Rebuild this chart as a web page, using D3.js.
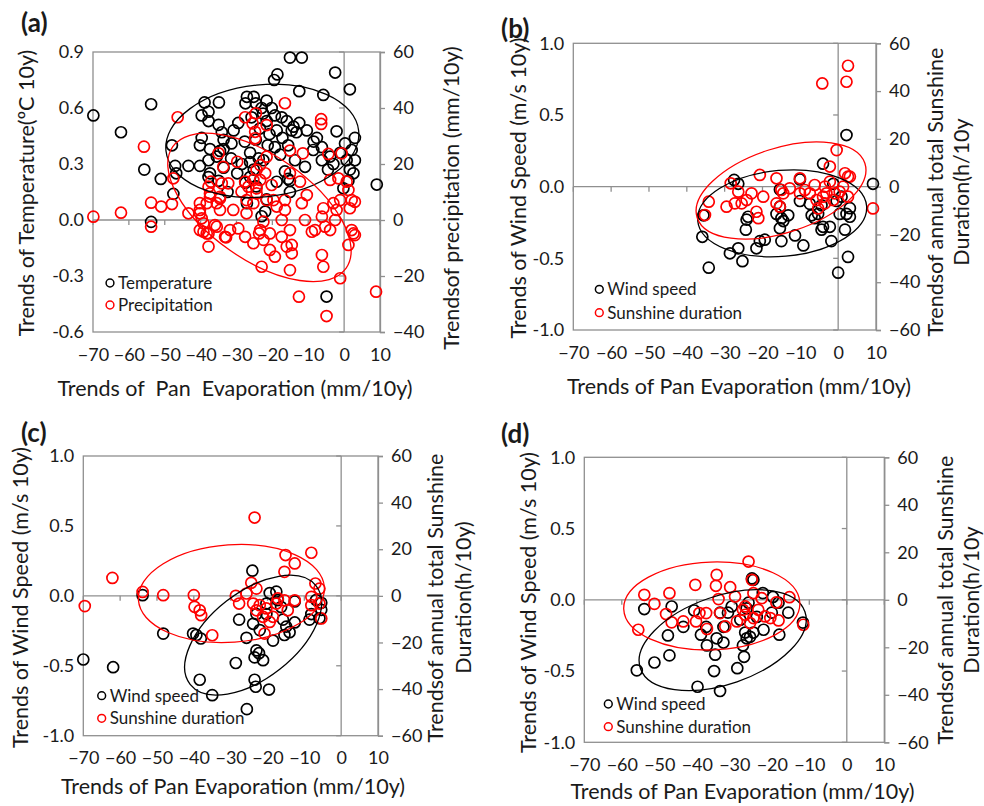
<!DOCTYPE html>
<html><head><meta charset="utf-8">
<script src="https://cdn.jsdelivr.net/npm/d3@7"></script>
<style>
body{margin:0;background:#fff}
text{font-family:Lato,'Noto Sans',sans-serif;fill:#1a1a1a}
</style>
</head><body>
<svg id="chart" width="984" height="806"></svg>
<script>
// ---------- axis ticks ----------
const xTicks = [-70,-60,-50,-40,-30,-20,-10,0,10];
const xTickLabels = ["\u221270","\u221260","\u221250","\u221240","\u221230","\u221220","\u221210","0","10"];
const tempTicks = [0.9,0.6,0.3,0,-0.3,-0.6];
const tempTickLabels = ["0.9","0.6","0.3","0.0","-0.3","-0.6"];
const precTicks = [60,40,20,0,-20,-40];
const windTicks = [1,0.5,0,-0.5,-1];
const windTickLabels = ["1.0","0.5","0.0","-0.5","-1.0"];
const sunTicks = [60,40,20,0,-20,-40,-60];

// ---------- panel (a) ----------
const aTemperature = [
[-69.9,0.56],[-53.8,0.62],[-62.2,0.47],[-55.7,0.27],[-51.1,0.22],[-53.8,-0.01],[-48.0,0.40],[-47.1,0.29],[-46.8,0.25],[-47.6,0.14],
[-43.4,0.29],[-40.2,0.29],[-38.9,0.63],[-34.9,0.63],[-39.7,0.56],[-37.8,0.58],[-37.8,0.53],[-35.0,0.51],[-40.2,0.40],[-39.7,0.44],
[-37.4,0.38],[-37.8,0.32],[-35.5,0.34],[-34.1,0.47],[-33.6,0.43],[-37.8,0.23],[-35.0,0.21],[-33.6,0.38],[-33.6,0.28],
[-15.1,0.87],[-18.6,0.78],[-19.5,0.75],[-30.8,0.48],[-27.1,0.66],[-25.2,0.66],[-27.5,0.625],[-24.6,0.625],[-21.6,0.64],[-23.0,0.60],
[-20.2,0.60],[-19.3,0.56],[-17.4,0.55],[-16.0,0.53],[-21.6,0.53],[-18.8,0.48],[-23.5,0.49],[-14.6,0.48],[-31.4,0.41],[-27.7,0.42],
[-24.6,0.43],[-21.3,0.40],[-19.3,0.39],[-15.6,0.40],[-34.6,0.37],[-26.2,0.36],[-17.8,0.35],[-26.2,0.31],[-22.5,0.32],[-16.5,0.26],
[-15.6,0.22],[-25.2,0.27],[-26.2,0.23],[-27.5,0.20],[-27.1,0.09],[-22.0,0.045],[-18.8,0.205],[-37.4,0.25],
[-29.5,0.52],[-28.5,0.30],[-29.8,0.25],[-24.5,0.18],[-23.8,0.33],[-20.8,0.46],[-22.6,0.57],[-25.8,0.55],[-17.2,0.44],[-13.3,0.47],
[-12.5,0.52],[-31.5,0.33],[-32.5,0.15],[-21.6,0.11],[-23.0,0.02],[-15.1,0.15],
[-11.8,0.87],[-2.5,0.79],[1.6,0.70],[-5.8,0.67],[-12.5,0.69],[-2.1,0.475],[3.0,0.44],[0.25,0.41],[-7.6,0.44],[-6.2,0.39],
[-8.6,0.375],[-10.4,0.48],[-14.1,0.50],[2.1,0.375],[3.0,0.32],[1.6,0.27],[1.2,0.21],[-3.0,0.30],[-6.2,0.32],[-10.9,0.285],
[-13.7,0.32],[9.1,0.19],[-0.2,0.17],[-4.9,-0.41],[-15.1,0.21],[-1.1,0.36],[-3.9,0.34],[0.7,0.32],[-8.5,0.42],[-4.5,0.27],[2.6,0.25]
];
const aPrecipitation = [
[-69.9,1.2],[-62.2,2.6],[-53.8,-2.4],[-53.8,6.2],[-51.0,4.8],[-48.0,5.7],[-55.8,26.2],[-46.4,36.7],[-47.6,14.9],[-43.4,2.4],
[-40.2,3.6],[-39.7,0.6],[-39.2,-1.2],[-37.8,-4.8],[-39.2,-4.2],[-37.8,-9.5],[-36.0,-1.8],[-33.2,-6.0],[-37.8,11.9],[-37.4,9.5],
[-34.1,13.1],[-34.6,7.7],[-37.1,13.7],[-40.2,6.0],[-35.0,23.8],[-33.7,19.0],
[-29.8,20.8],[-27.6,36.7],[-24.6,38.1],[-21.6,33.9],[-25.5,34.5],[-24.8,29.2],[-24.8,31.5],[-16.5,41.7],[-6.4,36.0],[-6.4,34.3],
[-15.1,24.8],[-11.5,23.8],[-4.4,23.6],[-0.7,23.8],[-3.9,14.3],[-1.6,14.9],[0.7,13.7],[1.2,10.7],[2.1,7.1],[3.0,6.5],
[1.6,4.2],[-3.0,6.0],[-1.1,7.1],[-2.1,3.6],[-5.8,4.2],[-6.2,1.2],[-2.5,0],[-5.3,-2.4],[-8.1,-3.6],[-3.9,-3.6],
[2.1,-3.6],[3.0,-5.4],[1.2,-8.9],[-6.2,-12.5],[-5.8,-16.7],[-1.1,-20.8],[8.9,-25.6],[-12.6,-27.4],[-4.9,-34.3],[-15.1,-17.9],
[-23.0,-16.7],[-16.0,-9.5],[-14.6,-11.9],[-15.1,-3.6],[-17.4,-6.0],[-19.3,-13.1],[-20.7,-10.7],[-22.5,-7.1],[-23.4,-3.6],[-20.7,-4.8],
[-25.3,-8.3],[-27.6,-6.0],[-29.5,-3.0],[-31.8,-3.6],[-32.9,-6.2],[-35.5,-2.4],[-38.3,-4.8],[-30.9,3.6],[-27.2,2.4],[-25.3,6.0],
[-24.4,9.5],[-26.7,11.9],[-25.3,14.3],[-24.4,17.9],[-23.4,19.6],[-21.6,22.6],[-20.2,12.5],[-19.7,7.1],[-21.6,7.1],[-18.8,4.8],
[-16.5,7.1],[-16.5,3.6],[-15.1,16.7],[-12.3,13.7],[-10.4,8.9],[-11.8,6.0],[-10.9,0],[-9.0,-4.2],[-14.6,-8.9],[-17.4,0],
[-22.5,-0.6],[-23.7,-4.8],[-27.2,7.1],[-28.6,10.1],[-27.6,13.7],[-32.3,13.1],[-34.6,8.3],[-34.6,3.6],[-37.4,8.3],[-38.3,6.0],
[-35.5,6.0],[-40.2,2.4],[-40.2,-3.6],[-22.0,16.7],[-23.4,14.3],[-24.4,11.3],[2.6,-4.8]
];
const aTempEllipse = {cx:-22.8, cy:0.424, rx:27.0, ry:0.30, angle:-6};
const aPrecEllipse = {cx:-23.6, cy:4.5, rx:29.5, ry:18.6, angle:35};

// ---------- panel (b) ----------
const bWind = [
[-34.2,-0.565],[-35.9,-0.35],[-35.6,-0.20],[-28.6,-0.465],[-26.4,-0.43],[-25.3,-0.52],[-27.5,0.047],[-26.4,0.02],[-24.4,-0.30],[-24.2,-0.23],
[-23.8,-0.21],[-21.6,-0.43],[-20.7,-0.38],[-19.4,-0.37],[-16.3,-0.19],[-15.4,-0.14],[-15.0,-0.22],[-15.4,-0.29],[-14.5,-0.24],[-13.2,-0.20],
[-15.0,-0.38],[-15.4,-0.02],[-11.4,-0.34],[-9.2,-0.41],[-10.1,-0.10],[-10.1,0.05],[-7.0,-0.20],[-6.2,-0.22],[-5.3,-0.19],[-4.4,-0.30],
[-4.0,-0.28],[-2.2,-0.28],[-1.8,-0.38],[-4.0,0.16],[-1.3,0.02],[-0.4,-0.10],[0,-0.60],[0.4,-0.19],[1.8,-0.30],[2.2,0.36],
[2.2,-0.19],[2.6,-0.49],[3.1,-0.15],[3.1,-0.21],[0.9,-0.07],[9.2,0.02],[-4.4,-0.13],[-7.5,-0.12]
];
const bSunshine = [
[-34.2,-6.3],[-35.2,-11.9],[-29.5,-8.4],[-28.4,1.4],[-27.3,-7.0],[-26.4,-2.1],[-25.5,-7.0],[-24.2,-5.6],[-22.9,-2.8],[-20.7,4.9],
[-19.8,-4.2],[-21.6,-10.5],[-21.1,-13.2],[-16.3,3.5],[-16.3,-7.0],[-15.4,-8.4],[-15.0,-1.4],[-14.5,-2.8],[-12.8,-0.7],[-10.1,3.5],
[-10.1,-2.8],[-8.8,-1.4],[-7.5,-2.8],[-6.2,0.7],[-5.7,-5.6],[-5.3,-9.1],[-4.2,43.2],[-3.5,0],[-3.1,-2.8],[-3.5,-7.0],
[-2.2,8.4],[-0.4,15.3],[-2.2,2.1],[-0.9,-2.8],[0.4,-2.1],[1.3,0],[1.8,5.6],[2.2,43.9],[2.6,50.6],[2.6,4.2],
[3.1,4.2],[2.6,-4.2],[9.2,-9.1],[-1.3,-5.6],[-4.0,-4.2]
];
const bWindEllipse = {cx:-14.8, cy:-0.186, rx:22.4, ry:0.30, angle:-5};
const bSunEllipse = {cx:-15.1, cy:-1.6, rx:23.3, ry:17.7, angle:-18};

// ---------- panel (c) ----------
const cWind = [
[-70.0,-0.455],[-61.9,-0.51],[-53.9,0.005],[-48.3,-0.27],[-40.2,-0.27],[-39.3,-0.28],[-38.1,-0.305],[-38.4,-0.60],[-35.0,-0.71],[-28.6,-0.48],
[-27.7,-0.17],[-25.7,-0.30],[-25.6,-0.81],[-24.1,0.18],[-23.9,-0.20],[-23.5,-0.60],[-23.2,-0.65],[-23.0,-0.39],[-23.5,-0.44],[-21.2,-0.46],
[-22.3,-0.41],[-19.6,-0.67],[-22.1,-0.245],[-20.3,-0.13],[-18.5,-0.32],[-19.4,0.02],[-17.6,0.03],[-17.2,-0.03],[-16.3,-0.08],[-14.9,-0.22],
[-15.4,-0.28],[-14.0,-0.26],[-12.6,-0.04],[-12.6,-0.19],[-15.8,-0.17],[-8.6,-0.17],[-8.1,-0.13],[-6.8,-0.03],[-5.9,-0.16],[-5.4,-0.05],
[-5.4,-0.10],[-23.0,-0.13],[-20.3,-0.055]
];
const cSunshine = [
[-69.6,-4.4],[-62.1,7.7],[-53.9,1.7],[-48.3,0.3],[-40.0,0.3],[-39.8,-4.7],[-38.4,-6.2],[-38.0,-8.3],[-35.0,-16.9],[-28.6,0],
[-27.7,-3.3],[-25.7,1.0],[-24.4,5.6],[-23.0,3.1],[-23.5,33.6],[-23.9,-3.3],[-23.0,-6.2],[-22.1,-4.0],[-21.2,-9.0],[-20.3,-5.4],
[-20.8,-16.2],[-19.4,-11.2],[-18.5,-9.0],[-17.6,-3.3],[-17.2,-1.1],[-15.4,-1.9],[-15.4,10.3],[-15.1,17.5],[-14.5,-6.2],[-12.6,13.9],
[-12.6,-1.9],[-8.1,18.5],[-8.1,-0.4],[-8.1,-4.0],[-7.0,5.3],[-5.9,3.1],[-5.9,-3.3],[-5.4,-9.7]
];
const cWindEllipse = {cx:-23.9, cy:-0.281, rx:21.7, ry:0.309, angle:-38};
const cSunEllipse = {cx:-29.8, cy:1.0, rx:25.3, ry:20.9, angle:-4};

// ---------- panel (d) ----------
const dWind = [
[-56.0,-0.495],[-51.3,-0.44],[-54.0,-0.065],[-47.7,-0.25],[-47.3,-0.39],[-46.7,-0.047],[-43.6,-0.19],[-40.7,-0.075],[-39.8,-0.61],[-38.9,-0.245],
[-37.5,-0.19],[-37.3,-0.32],[-35.1,-0.385],[-35.4,-0.50],[-34.7,-0.27],[-33.8,-0.64],[-32.9,-0.30],[-32.9,-0.19],[-31.7,-0.09],[-30.7,-0.047],
[-29.2,-0.48],[-27.7,-0.32],[-27.4,-0.40],[-27.1,-0.23],[-26.7,-0.27],[-25.8,-0.26],[-24.9,-0.23],[-25.3,0.15],[-24.9,0.14],[-26.2,-0.02],
[-24.0,-0.12],[-22.2,-0.21],[-22.4,0.047],[-19.7,0.02],[-20.0,-0.09],[-18.2,-0.02],[-18.0,-0.245],[-15.6,-0.09],[-11.7,-0.16],[-28.4,-0.14],
[-33.8,-0.09],[-26.7,-0.06]
];
const dSunshine = [
[-55.6,-12.6],[-54.0,2.1],[-51.3,-1.7],[-47.3,2.8],[-48.2,-6.0],[-46.7,-9.5],[-43.6,-9.1],[-40.4,6.3],[-40.2,-9.1],[-39.3,-5.6],
[-37.5,-5.6],[-37.3,-12.3],[-34.7,10.5],[-34.9,5.9],[-34.2,0.3],[-33.8,-5.6],[-32.4,-11.2],[-31.1,5.3],[-29.8,1.4],[-29.3,-9.1],
[-27.7,-4.2],[-27.1,-6.3],[-26.2,16.1],[-25.8,-9.8],[-25.3,8.4],[-24.9,2.8],[-24.9,-7.7],[-23.6,-4.2],[-22.7,0.7],[-21.8,-7.0],
[-20.4,-7.7],[-18.8,-1.1],[-18.2,-8.7],[-15.3,1.1],[-11.6,-10.5],[-27.1,-2.8]
];
const dWindEllipse = {cx:-33.1, cy:-0.283, rx:23.2, ry:0.309, angle:-19};
const dSunEllipse = {cx:-36.0, cy:-2.6, rx:23.5, ry:18.5, angle:-2};

// ---------- layout (not data) ----------
const svg = d3.select("#chart");
const GRAY = "#8f8f8f";
const RED = "#ff0000";
const TICK_FS = 18, TITLE_FS = 21.5, LEG_FS = 17;

const panels = [
 {tag:"(a)", tagPos:[21,32], box:[93,52,380,332],
  left:{dom:[-0.6,0.9], ticks:tempTicks, labels:tempTickLabels},
  right:{dom:[-40,60], ticks:precTicks},
  black:aTemperature, red:aPrecipitation, blackEll:aTempEllipse, redEll:aPrecEllipse,
  leftTitle:"Trends of Temperature(ºC 10y)", leftTitlePos:[29,193],
  rightTitle:["Trendsof precipitation (mm/10y)"], rightTitlePos:[[454,198]],
  xTitle:"Trends of  Pan  Evaporation (mm/10y)", xTitlePos:[235,396],
  legend:["Temperature","Precipitation"], legendPos:[110,283,305]},
 {tag:"(b)", tagPos:[501,38], box:[573.3,43.3,876,330],
  left:{dom:[-1,1], ticks:windTicks, labels:windTickLabels},
  right:{dom:[-60,60], ticks:sunTicks},
  black:bWind, red:bSunshine, blackEll:bWindEllipse, redEll:bSunEllipse,
  leftTitle:"Trends of Wind Speed (m/s 10y)", leftTitlePos:[521,188],
  rightTitle:["Trendsof annual total Sunshine","Duration(h/10y"], rightTitlePos:[[938,192],[964,192]],
  xTitle:"Trends of Pan Evaporation (mm/10y)", xTitlePos:[739,394],
  legend:["Wind speed","Sunshine duration"], legendPos:[599.3,289.3,312.7]},
 {tag:"(c)", tagPos:[21,442], box:[83.3,456,378,735.7],
  left:{dom:[-1,1], ticks:windTicks, labels:windTickLabels},
  right:{dom:[-60,60], ticks:sunTicks},
  black:cWind, red:cSunshine, blackEll:cWindEllipse, redEll:cSunEllipse,
  leftTitle:"Trends of Wind Speed (m/s 10y)", leftTitlePos:[23,597.5],
  rightTitle:["Trendsof annual total Sunshine","Duration(h/10y)"], rightTitlePos:[[438,598],[466,597.5]],
  xTitle:"Trends of Pan Evaporation (mm/10y)", xTitlePos:[233,794],
  legend:["Wind speed","Sunshine duration"], legendPos:[101.7,695.7,718.3]},
 {tag:"(d)", tagPos:[501,443], box:[584.3,457.3,884.3,742.3],
  left:{dom:[-1,1], ticks:windTicks, labels:windTickLabels},
  right:{dom:[-60,60], ticks:sunTicks},
  black:dWind, red:dSunshine, blackEll:dWindEllipse, redEll:dSunEllipse,
  leftTitle:"Trends of Wind Speed (m/s 10y)", leftTitlePos:[531,602.5],
  rightTitle:["Trendsof annual total Sunshine","Duration(h/10y"], rightTitlePos:[[948,600],[974,600]],
  xTitle:"Trends of Pan Evaporation (mm/10y)", xTitlePos:[742.5,799],
  legend:["Wind speed","Sunshine duration"], legendPos:[608.3,704,726.7]}
];

function drawEllipse(g, e, x, y, color){
  const kx = x(1) - x(0), ky = y(0) - y(1);
  const cx = x(e.cx), cy = y(e.cy);
  g.append("ellipse").attr("cx",cx).attr("cy",cy)
   .attr("rx", e.rx*kx).attr("ry", e.ry*ky)
   .attr("transform",`rotate(${e.angle},${cx},${cy})`)
   .attr("fill","none").attr("stroke",color).attr("stroke-width",1.3);
}

panels.forEach(p=>{
  const [L,T,R,B] = p.box;
  const g = svg.append("g");
  const x = d3.scaleLinear().domain([-70,10]).range([L,R]);
  const yL = d3.scaleLinear().domain(p.left.dom).range([B,T]);
  const yR = d3.scaleLinear().domain(p.right.dom).range([B,T]);

  g.append("rect").attr("x",L).attr("y",T).attr("width",R-L).attr("height",B-T)
   .attr("fill","#fff").attr("stroke",GRAY).attr("stroke-width",1.3);
  g.append("line").attr("x1",L).attr("x2",R).attr("y1",yL(0)).attr("y2",yL(0))
   .attr("stroke",GRAY).attr("stroke-width",1.3);
  g.selectAll(".xt").data(xTicks).enter().append("line")
   .attr("x1",d=>x(d)).attr("x2",d=>x(d)).attr("y1",yL(0)).attr("y2",yL(0)+5)
   .attr("stroke",GRAY).attr("stroke-width",1.3);
  g.append("line").attr("x1",x(0)).attr("x2",x(0)).attr("y1",T).attr("y2",B)
   .attr("stroke",GRAY).attr("stroke-width",1.3);
  g.selectAll(".yt").data(p.left.ticks).enter().append("line")
   .attr("x1",x(0)-5).attr("x2",x(0)).attr("y1",d=>yL(d)).attr("y2",d=>yL(d))
   .attr("stroke",GRAY).attr("stroke-width",1.3);

  const la = d3.axisLeft(yL).tickValues(p.left.ticks)
     .tickFormat((d,i)=>p.left.labels[i]).tickSize(0).tickPadding(9);
  const lg = g.append("g").attr("transform",`translate(${L},0)`).call(la);
  lg.select(".domain").remove();
  lg.selectAll("text").attr("font-size",TICK_FS).attr("fill","#1a1a1a").style("font-family","Lato");

  const ra = d3.axisRight(yR).tickValues(p.right.ticks).tickSize(5).tickPadding(8)
     .tickFormat(d3.format("d"));
  const rg = g.append("g").attr("transform",`translate(${R},0)`).call(ra);
  rg.select(".domain").attr("stroke",GRAY).attr("stroke-width",1.3);
  rg.selectAll("line").attr("stroke",GRAY).attr("stroke-width",1.3);
  rg.selectAll("text").attr("font-size",TICK_FS).attr("fill","#1a1a1a").style("font-family","Lato");

  const ba = d3.axisBottom(x).tickValues(xTicks)
     .tickFormat((d,i)=>xTickLabels[i]).tickSize(0).tickPadding(16);
  const bg = g.append("g").attr("transform",`translate(0,${B})`).call(ba);
  bg.select(".domain").remove();
  bg.selectAll("text").attr("font-size",TICK_FS).attr("fill","#1a1a1a").style("font-family","Lato");

  const pg = g.append("g");
  pg.selectAll(".b").data(p.black).enter().append("circle")
    .attr("cx",d=>x(d[0])).attr("cy",d=>yL(d[1])).attr("r",5.5)
    .attr("fill","none").attr("stroke","#000").attr("stroke-width",1.7);
  pg.selectAll(".r").data(p.red).enter().append("circle")
    .attr("cx",d=>x(d[0])).attr("cy",d=>yR(d[1])).attr("r",5.5)
    .attr("fill","none").attr("stroke",RED).attr("stroke-width",1.7);

  drawEllipse(g, p.blackEll, x, yL, "#000");
  drawEllipse(g, p.redEll, x, yR, RED);

  const [lx,ly1,ly2] = p.legendPos;
  [[ly1,"#000",p.legend[0]],[ly2,RED,p.legend[1]]].forEach(([ly,c,t])=>{
    g.append("circle").attr("cx",lx).attr("cy",ly).attr("r",3.9)
     .attr("fill","none").attr("stroke",c).attr("stroke-width",1.5);
    g.append("text").attr("x",lx+8).attr("y",ly+6).attr("font-size",LEG_FS).text(t);
  });

  g.append("text").attr("transform",`translate(${p.leftTitlePos[0]},${p.leftTitlePos[1]}) rotate(-90)`)
   .attr("text-anchor","middle").attr("dominant-baseline","middle").attr("font-size",TITLE_FS).text(p.leftTitle);
  p.rightTitle.forEach((t,i)=>{
    const [tx,ty] = p.rightTitlePos[i];
    g.append("text").attr("transform",`translate(${tx},${ty}) rotate(-90)`)
     .attr("text-anchor","middle").attr("dominant-baseline","middle").attr("font-size",TITLE_FS).text(t);
  });
  g.append("text").attr("x",p.xTitlePos[0]).attr("y",p.xTitlePos[1])
   .attr("text-anchor","middle").attr("font-size",TITLE_FS).style("white-space","pre").text(p.xTitle);
  g.append("text").attr("x",p.tagPos[0]).attr("y",p.tagPos[1])
   .attr("font-size",26).attr("font-weight","bold").text(p.tag);
});
</script>
</body></html>
